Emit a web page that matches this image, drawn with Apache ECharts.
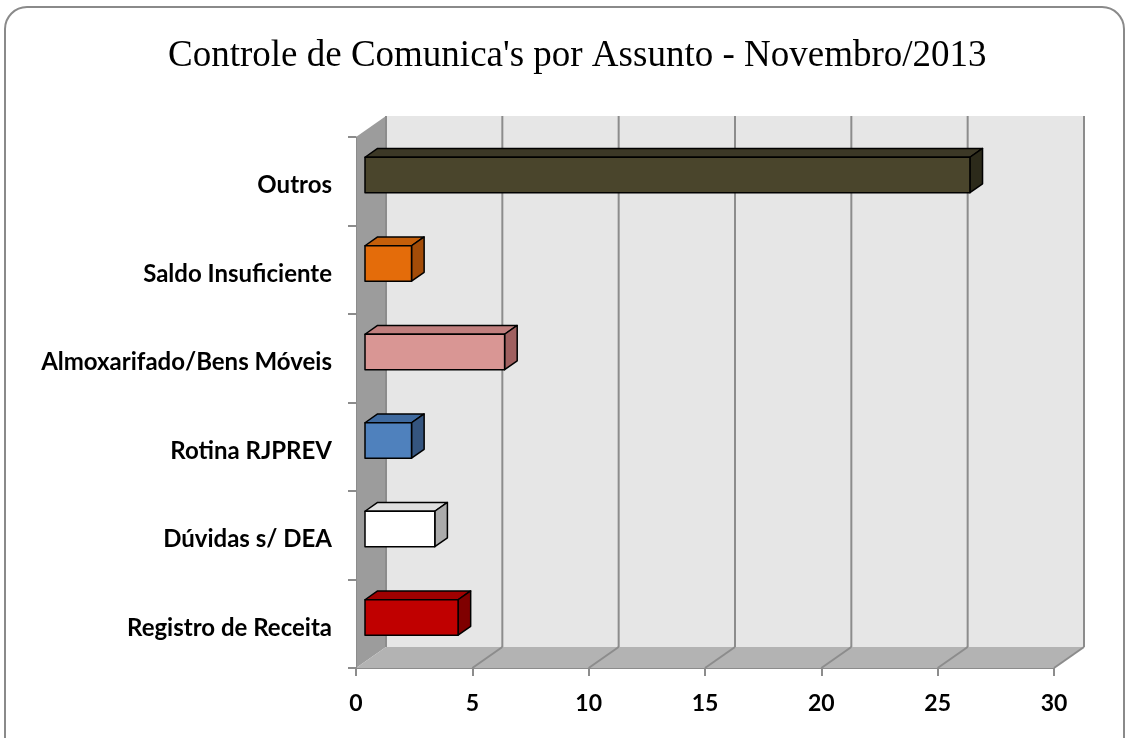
<!DOCTYPE html>
<html lang="pt">
<head>
    <meta charset="UTF-8">
    <title>Controle de Comunica's por Assunto</title>
    <script src="https://cdn.jsdelivr.net/npm/echarts@6/dist/echarts.min.js"></script>
    <style>
        html, body { margin: 0; padding: 0; background: #fff; }
    </style>
</head>
<body>
<div id="main" style="width:1129px;height:738px;"></div>

<script type="text/javascript">
    // dados (de baixo para cima no eixo)
    var assuntos = ['Registro de Receita', 'Dúvidas s/ DEA', 'Rotina RJPREV',
        'Almoxarifado/Bens Móveis', 'Saldo Insuficiente', 'Outros'];
    var quantidades = [4, 3, 2, 6, 2, 26];
    var ticksX = [0, 5, 10, 15, 20, 25, 30];

    // cores: frente, topo, lateral
    var frente = ['#c00000', '#ffffff', '#4f81bd', '#d99694', '#e46c0a', '#4a452c'];
    var topo = ['#a00000', '#e0e0e0', '#3f6a9f', '#c07f7e', '#c55f0a', '#3c3826'];
    var lado = ['#7f0000', '#ababab', '#35557f', '#a06060', '#a34c08', '#2c2a1a'];

    // profundidade 3d (px)
    var DX = 30, DY = -21;

    var myChart = echarts.init(document.getElementById('main'));

    var barData = [];
    for (var i = 0; i < assuntos.length; i++) {
        barData.push([quantidades[i], i]);
    }

    function renderWalls(params, api) {
        var cs = params.coordSys;
        var v = api.value(0);
        var front = api.coord([v, 0])[0];
        var yb = cs.y + cs.height;
        var lineStyle = {stroke: '#8c8c8c', lineWidth: 2};
        var children = [];
        if (params.dataIndex === 0) {
            // parede do fundo
            children.push({type: 'polygon', shape: {points: [
                [cs.x + DX, cs.y + DY], [cs.x + cs.width + DX, cs.y + DY],
                [cs.x + cs.width + DX, yb + DY], [cs.x + DX, yb + DY]]},
                style: {fill: '#e6e6e6'}});
            // parede lateral
            children.push({type: 'polygon', shape: {points: [
                [cs.x, cs.y], [cs.x + DX, cs.y + DY], [cs.x + DX, yb + DY], [cs.x, yb]]},
                style: {fill: '#9c9c9c'}});
            // piso
            children.push({type: 'polygon', shape: {points: [
                [cs.x, yb], [cs.x + DX, yb + DY], [cs.x + cs.width + DX, yb + DY], [cs.x + cs.width, yb]]},
                style: {fill: '#b3b3b3'}});
        }
        children.push({type: 'line', shape: {x1: front + DX, y1: cs.y + DY, x2: front + DX, y2: yb + DY},
            style: lineStyle});
        if (v > 0) {
            children.push({type: 'line', shape: {x1: front, y1: yb, x2: front + DX, y2: yb + DY},
                style: lineStyle});
        }
        return {type: 'group', children: children};
    }

    function renderBar(params, api) {
        var i = params.dataIndex;
        var a = api.coord([0, api.value(1)]);
        var b = api.coord([api.value(0), api.value(1)]);
        var band = api.size([0, 1])[1];
        var h = band * 0.40;
        var f = 0.3, d = 0.42;
        var x0 = a[0] + DX * f, x1 = b[0] + DX * f;
        var yc = a[1] + DY * f;
        var yt = yc - h / 2, yb = yc + h / 2;
        var ex = DX * d, ey = DY * d;
        var border = {stroke: '#000', lineWidth: 1.5, lineJoin: 'round'};
        return {
            type: 'group',
            children: [
                {type: 'polygon', shape: {points: [[x0, yt], [x0 + ex, yt + ey], [x1 + ex, yt + ey], [x1, yt]]},
                    style: echarts.util.extend({fill: topo[i]}, border)},
                {type: 'polygon', shape: {points: [[x1, yt], [x1 + ex, yt + ey], [x1 + ex, yb + ey], [x1, yb]]},
                    style: echarts.util.extend({fill: lado[i]}, border)},
                {type: 'rect', shape: {x: x0, y: yt, width: x1 - x0, height: h},
                    style: echarts.util.extend({fill: frente[i]}, border)}
            ]
        };
    }

    var option = {
        backgroundColor: '#ffffff',
        animation: false,
        title: {
            text: "Controle de Comunica's por Assunto - Novembro/2013",
            left: 163,
            top: 33,
            textStyle: {
                fontFamily: 'Liberation Serif',
                fontWeight: 'normal',
                fontSize: 37,
                color: '#000'
            }
        },
        graphic: [{
            type: 'rect',
            shape: {x: 5, y: 7, width: 1119, height: 780, r: 22},
            style: {fill: 'none', stroke: '#8a8a8a', lineWidth: 2},
            z: -10
        }],
        grid: {left: 356, top: 137, width: 698, height: 531},
        xAxis: {
            type: 'value',
            min: 0,
            max: 30,
            interval: 5,
            axisLine: {show: true, lineStyle: {color: '#8c8c8c', width: 1}},
            axisTick: {show: true, length: 8, lineStyle: {color: '#8c8c8c', width: 2}},
            splitLine: {show: false},
            axisLabel: {
                margin: 24,
                fontFamily: 'Lato',
                fontWeight: 'bold',
                fontSize: 23,
                color: '#000'
            }
        },
        yAxis: {
            type: 'category',
            data: assuntos,
            axisLine: {show: true, lineStyle: {color: '#8c8c8c', width: 1}},
            axisTick: {show: true, length: 8, lineStyle: {color: '#8c8c8c', width: 2}},
            splitLine: {show: false},
            axisLabel: {
                margin: 24,
                formatter: '{a|{value}}',
                rich: {
                    a: {
                        padding: [9, 0, 0, 0],
                        fontFamily: 'Lato',
                        fontWeight: 'bold',
                        fontSize: 24,
                        color: '#000'
                    }
                }
            }
        },
        series: [{
            type: 'custom',
            renderItem: renderWalls,
            data: ticksX.map(function (t) { return [t]; }),
            encode: {x: 0},
            silent: true,
            z: 0
        }, {
            type: 'custom',
            renderItem: renderBar,
            data: barData,
            encode: {x: 0, y: 1},
            z: 5
        }]
    };

    myChart.setOption(option);
</script>
</body>
</html>
